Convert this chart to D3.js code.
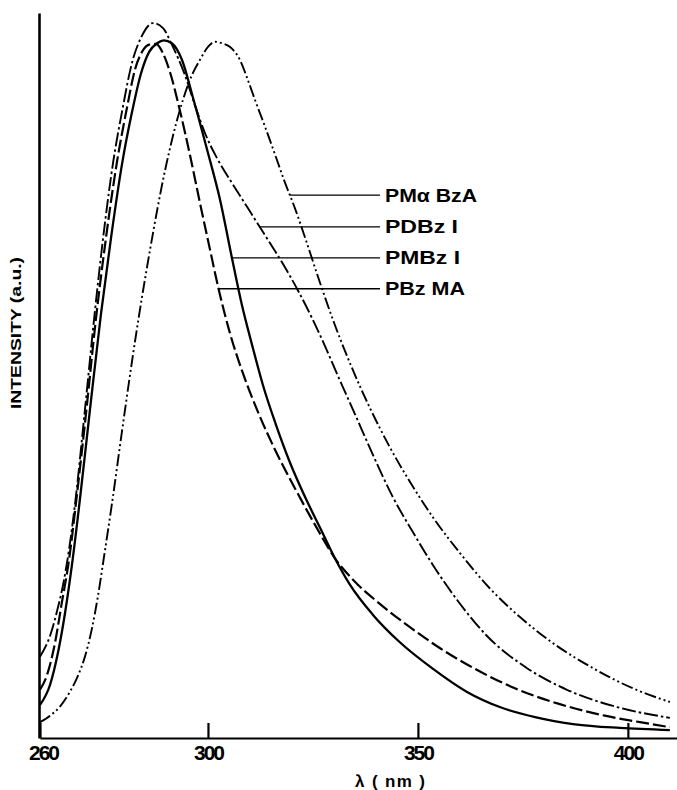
<!DOCTYPE html>
<html>
<head>
<meta charset="utf-8">
<script src="https://cdnjs.cloudflare.com/ajax/libs/d3/7.9.0/d3.min.js"></script>
<style>
  html, body { margin: 0; padding: 0; background: #fff; }
  svg { display: block; font-family: "Liberation Sans", Arial, sans-serif; }
</style>
</head>
<body>
<svg id="chart" width="677" height="790"></svg>
<script>
// wavelength (nm), intensity (a.u., peak ~100)
const PMaBzA = [
  [260.0, 2.2], [262.4, 3.1], [264.8, 4.4], [267.1, 6.4], [269.0, 8.6], [270.7, 11.3],
  [272.4, 15.3], [273.8, 19.7], [275.2, 25.0], [277.1, 32.4], [279.5, 42.5], [282.6, 55.0],
  [286.2, 67.8], [289.8, 78.9], [293.3, 87.2], [296.2, 92.1], [298.1, 94.2], [300.0, 96.0],
  [301.7, 96.7], [303.3, 96.5], [305.2, 96.0], [307.6, 94.2], [309.5, 91.4], [311.4, 88.3],
  [313.6, 84.9], [316.0, 81.0], [318.3, 77.2], [320.7, 73.6], [323.3, 69.2], [326.7, 63.2],
  [330.2, 57.4], [334.3, 51.4], [338.6, 45.8], [343.3, 40.4], [348.6, 35.1], [354.0, 30.3],
  [360.0, 25.7], [367.1, 20.8], [374.3, 16.8], [382.1, 13.2], [391.7, 9.7], [401.2, 6.9],
  [410.0, 5.0]
];
const PDBzI = [
  [260.0, 11.3], [262.4, 14.2], [264.0, 17.5], [265.5, 21.3], [266.9, 26.1], [268.6, 33.8],
  [270.7, 45.6], [273.1, 59.4], [275.5, 71.7], [277.4, 79.9], [279.5, 86.9], [282.1, 94.2],
  [284.0, 97.2], [286.9, 99.3], [289.3, 98.6], [291.4, 96.3], [294.5, 92.1], [296.9, 87.9],
  [299.3, 84.0], [302.1, 80.6], [305.7, 77.1], [309.5, 73.6], [313.3, 70.1], [317.6, 66.1],
  [321.4, 62.2], [324.8, 58.3], [327.9, 54.4], [331.4, 49.7], [335.0, 45.0], [339.0, 39.7],
  [344.0, 33.5], [348.8, 28.6], [353.6, 24.0], [359.3, 19.2], [366.4, 14.2], [376.0, 9.7],
  [385.5, 6.7], [397.4, 4.3], [410.0, 2.8]
];
const PMBzI = [
  [260.0, 4.6], [262.4, 7.4], [264.3, 11.9], [266.0, 17.5], [267.6, 24.0], [269.5, 33.1],
  [271.9, 45.6], [274.5, 58.8], [276.9, 69.4], [279.5, 79.6], [281.9, 86.9], [284.0, 92.2],
  [286.0, 95.3], [287.9, 96.5], [289.5, 96.9], [291.4, 96.5], [293.8, 94.2], [296.4, 89.0],
  [299.8, 81.7], [302.9, 74.7], [305.7, 66.7], [308.1, 60.1], [310.5, 54.6], [313.1, 49.0],
  [316.2, 43.5], [319.5, 38.3], [323.1, 33.5], [326.7, 29.2], [330.2, 25.0], [333.8, 21.3],
  [339.3, 17.1], [345.7, 13.3], [353.6, 9.6], [361.7, 6.4], [369.5, 4.3], [377.9, 2.9],
  [387.4, 1.9], [398.1, 1.4], [410.0, 1.1]
];
const PBzMA = [
  [260.0, 6.7], [261.7, 8.8], [263.6, 13.3], [265.2, 18.8], [266.9, 24.7], [268.8, 33.8],
  [271.0, 45.3], [273.3, 58.1], [275.7, 69.4], [278.3, 79.9], [280.7, 87.5], [282.6, 92.8],
  [284.3, 95.3], [286.0, 96.3], [287.6, 96.4], [289.3, 95.1], [291.0, 92.4], [293.3, 87.2],
  [295.7, 81.0], [298.1, 74.3], [300.5, 67.8], [302.6, 62.2], [305.2, 56.3], [308.3, 50.7],
  [311.9, 45.3], [316.0, 40.0], [320.7, 34.7], [325.5, 29.6], [330.2, 25.0], [335.0, 21.7],
  [341.0, 18.6], [348.1, 15.4], [355.2, 12.5], [363.6, 9.6], [373.1, 6.9], [383.8, 4.7],
  [394.5, 3.1], [402.9, 2.2], [410.0, 1.5]
];

const seriesNames = ['PMα BzA', 'PDBz I', 'PMBz I', 'PBz MA'];
const seriesData = [PMaBzA, PDBzI, PMBzI, PBzMA];
const labelLevels = [75.4, 71.0, 66.7, 62.4];   // intensity where each leader meets its curve
const xTicks = [260, 300, 350, 400];

const dashes = ['12,3,2,3,2,3', '14,3,2.5,3', null, '13,4'];
const widths = [1.9, 1.9, 2.3, 2.2];

const svg = d3.select('#chart');
const x = d3.scaleLinear().domain([260, 411.7]).range([40, 677]);
const y = d3.scaleLinear().domain([0, 100.7]).range([738, 13]);

// curves
const line = d3.line().x(d => x(d[0])).y(d => y(d[1])).curve(d3.curveMonotoneX);
svg.append('g').selectAll('path').data(seriesData).join('path')
  .attr('d', line)
  .attr('fill', 'none')
  .attr('stroke', '#000')
  .attr('stroke-width', (d, i) => widths[i])
  .attr('stroke-dasharray', (d, i) => dashes[i])
  .attr('stroke-linejoin', 'round');

// x axis
const xAxis = svg.append('g').attr('transform', 'translate(0,738)')
  .call(d3.axisBottom(x).tickValues(xTicks).tickSize(-15).tickSizeOuter(0).tickPadding(7));
xAxis.select('.domain').attr('stroke-width', 2);
xAxis.selectAll('.tick line').attr('stroke-width', 2.2);
xAxis.selectAll('.tick text')
  .attr('font-size', 21).attr('font-weight', 'bold').attr('fill', '#000')
  .attr('letter-spacing', -2)
  .attr('dx', d => d === 260 ? 3 : 0);

// y axis (no ticks)
const yAxis = svg.append('g').attr('transform', 'translate(39,0)')
  .call(d3.axisLeft(y).tickValues([]).tickSizeOuter(0));
yAxis.select('.domain').attr('stroke-width', 2.6);

// axis titles
svg.append('text')
  .attr('x', 390).attr('y', 787)
  .attr('text-anchor', 'middle')
  .attr('font-size', 17).attr('font-weight', 'bold')
  .attr('textLength', 70).attr('lengthAdjust', 'spacing')
  .text('λ ( nm )');

svg.append('text')
  .attr('transform', 'translate(21,333) rotate(-90)')
  .attr('text-anchor', 'middle')
  .attr('font-size', 15).attr('font-weight', 'bold')
  .attr('textLength', 152).attr('lengthAdjust', 'spacingAndGlyphs')
  .text('INTENSITY (a.u.)');

// leader lines + labels
function descendingX(data, level) {
  let peak = 0;
  data.forEach((d, i) => { if (d[1] > data[peak][1]) peak = i; });
  for (let i = peak; i < data.length - 1; i++) {
    const a = data[i], b = data[i + 1];
    if (a[1] >= level && b[1] <= level) {
      return a[0] + (a[1] - level) / (a[1] - b[1]) * (b[0] - a[0]);
    }
  }
  return data[peak][0];
}

const legend = svg.append('g');
seriesData.forEach((data, i) => {
  const ly = y(labelLevels[i]);
  legend.append('line')
    .attr('x1', x(descendingX(data, labelLevels[i]))).attr('x2', 380)
    .attr('y1', ly).attr('y2', ly)
    .attr('stroke', '#000').attr('stroke-width', 1.3);
  legend.append('text')
    .attr('x', 385).attr('y', ly + 6.5)
    .attr('font-size', 18).attr('font-weight', 'bold')
    .attr('textLength', [92, 73, 75, 80][i]).attr('lengthAdjust', 'spacingAndGlyphs')
    .text(seriesNames[i]);
});
</script>
</body>
</html>
